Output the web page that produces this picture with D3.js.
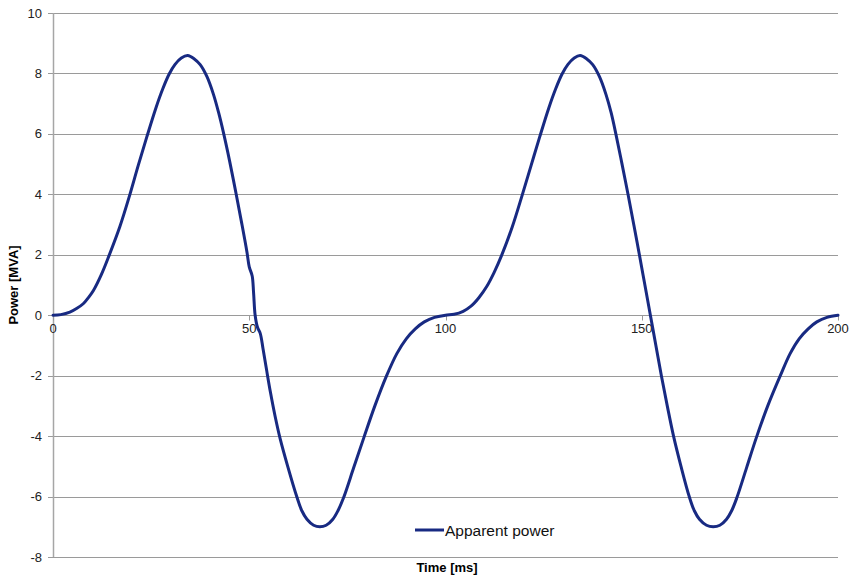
<!DOCTYPE html>
<html>
<head>
<meta charset="utf-8">
<script src="https://cdn.jsdelivr.net/npm/d3@7/dist/d3.min.js"></script>
<style>
  body { margin: 0; background: #fff; }
  svg { display: block; font-family: "Liberation Sans", Arial, sans-serif; }
</style>
</head>
<body>
<div id="myGraph"></div>
<script>
// time [ms] and apparent power [MVA]
var timeMs = [0, 2, 4.3, 6, 7.7, 9, 10.3, 12.4, 14.3, 17, 19.6, 21.7, 23.9, 26.2, 28, 29.6, 31.1, 32.7, 34.3, 36, 37.5, 39.2, 40.9, 42.2, 43.5, 45, 46.6, 48.1, 49.4, 50, 50.75, 51.1, 51.5, 52.1, 52.8, 53.5, 54.4, 55.4, 56.6, 57.9, 59.8, 62.1, 63.4, 64.7, 66.4, 68, 69.6, 71.3, 72.6, 74, 76.6, 79.2, 82, 85, 87.6, 90, 92.3, 94.6, 97.2, 100, 102.2, 104.5, 106.5, 108.5, 110.5, 112.4, 114.3, 117, 119.6, 121.8, 124, 126.3, 128.1, 129.7, 131.2, 132.8, 134.3, 136, 137.5, 139.2, 140.9, 142.2, 143.4, 144.9, 146.5, 148, 149.4, 150.8, 152.2, 153.6, 155, 156.5, 158.1, 160, 162.1, 163.4, 164.7, 166.5, 168.2, 169.9, 171.6, 172.9, 174.2, 176.7, 179.2, 182.1, 185.3, 187.8, 190.1, 192.4, 194.6, 197.2, 200];
var powerMva = [0, 0.02, 0.1, 0.22, 0.38, 0.58, 0.82, 1.37, 1.98, 2.92, 4.0, 4.95, 5.9, 6.85, 7.5, 7.98, 8.3, 8.51, 8.59, 8.48, 8.29, 7.9, 7.3, 6.7, 6.0, 5.1, 4.05, 3.03, 2.1, 1.6, 1.3, 0.75, 0, -0.4, -0.6, -1.1, -1.8, -2.55, -3.35, -4.1, -5.0, -6.0, -6.47, -6.75, -6.95, -7.0, -6.95, -6.75, -6.47, -6.05, -5.05, -4.05, -3.0, -2.0, -1.27, -0.78, -0.45, -0.22, -0.07, 0, 0.03, 0.13, 0.3, 0.58, 0.95, 1.42, 1.98, 2.92, 4.0, 4.95, 5.9, 6.85, 7.5, 7.98, 8.3, 8.51, 8.59, 8.48, 8.29, 7.9, 7.3, 6.7, 6.0, 5.05, 4.0, 2.98, 2.0, 1.0, 0, -1.0, -2.0, -3.0, -4.0, -5.0, -6.0, -6.47, -6.75, -6.95, -7.0, -6.95, -6.75, -6.47, -6.05, -5.05, -4.05, -3.0, -2.0, -1.27, -0.78, -0.45, -0.22, -0.07, 0];
var yTicks = [-8, -6, -4, -2, 0, 2, 4, 6, 8, 10];
var xTicks = [0, 50, 100, 150, 200];
var seriesName = "Apparent power";

chart();

function chart(){
    var width = 851, height = 577;
    var plotLeft = 53, plotRight = 838, plotTop = 13, plotBottom = 557;

    var x = d3.scaleLinear().domain([0, 200]).range([plotLeft, plotRight]);
    var y = d3.scaleLinear().domain([-8, 10]).range([plotBottom, plotTop]);

    var svg = d3.select("#myGraph").append("svg")
        .attr("width", width)
        .attr("height", height);

    // horizontal gridlines
    svg.append("g")
        .selectAll("line")
        .data(yTicks)
        .enter().append("line")
        .attr("x1", plotLeft - 5)
        .attr("x2", plotRight)
        .attr("y1", function(d){ return Math.round(y(d)) + 0.5; })
        .attr("y2", function(d){ return Math.round(y(d)) + 0.5; })
        .attr("stroke", "#9a9a9a")
        .attr("stroke-width", 1);

    // y axis line
    svg.append("line")
        .attr("x1", plotLeft + 0.5).attr("x2", plotLeft + 0.5)
        .attr("y1", plotTop).attr("y2", plotBottom)
        .attr("stroke", "#a6a6a6")
        .attr("stroke-width", 1.5);

    // y tick labels
    svg.append("g")
        .selectAll("text")
        .data(yTicks)
        .enter().append("text")
        .attr("x", plotLeft - 11)
        .attr("y", function(d){ return y(d); })
        .attr("dy", "0.35em")
        .attr("text-anchor", "end")
        .attr("font-size", 13)
        .attr("fill", "#222")
        .text(function(d){ return d; });

    // x axis at zero, ticks below
    var zeroY = Math.round(y(0)) + 0.5;
    svg.append("g")
        .selectAll("line")
        .data(xTicks)
        .enter().append("line")
        .attr("x1", function(d){ return Math.round(x(d)) + 0.5; })
        .attr("x2", function(d){ return Math.round(x(d)) + 0.5; })
        .attr("y1", zeroY)
        .attr("y2", zeroY + 5)
        .attr("stroke", "#9a9a9a");

    svg.append("g")
        .selectAll("text")
        .data(xTicks)
        .enter().append("text")
        .attr("x", function(d){ return x(d); })
        .attr("y", zeroY + 17)
        .attr("text-anchor", "middle")
        .attr("font-size", 13)
        .attr("fill", "#222")
        .text(function(d){ return d; });

    // series line
    var line = d3.line()
        .x(function(d, i){ return x(timeMs[i]); })
        .y(function(d){ return y(d); })
        .curve(d3.curveCatmullRom.alpha(0.5));

    svg.append("path")
        .datum(powerMva)
        .attr("d", line)
        .attr("fill", "none")
        .attr("stroke", "#182a82")
        .attr("stroke-width", 3)
        .attr("stroke-linejoin", "round")
        .attr("stroke-linecap", "round");

    // axis titles
    svg.append("text")
        .attr("x", 447)
        .attr("y", 572)
        .attr("text-anchor", "middle")
        .attr("font-size", 13)
        .attr("font-weight", "bold")
        .text("Time [ms]");

    svg.append("text")
        .attr("transform", "translate(18,285) rotate(-90)")
        .attr("text-anchor", "middle")
        .attr("font-size", 13)
        .attr("font-weight", "bold")
        .text("Power [MVA]");

    // legend
    svg.append("line")
        .attr("x1", 415).attr("x2", 444)
        .attr("y1", 530).attr("y2", 530)
        .attr("stroke", "#182a82")
        .attr("stroke-width", 3);

    svg.append("text")
        .attr("x", 445)
        .attr("y", 535.5)
        .attr("font-size", 15.5)
        .attr("fill", "#111")
        .text(seriesName);
}
</script>
</body>
</html>
